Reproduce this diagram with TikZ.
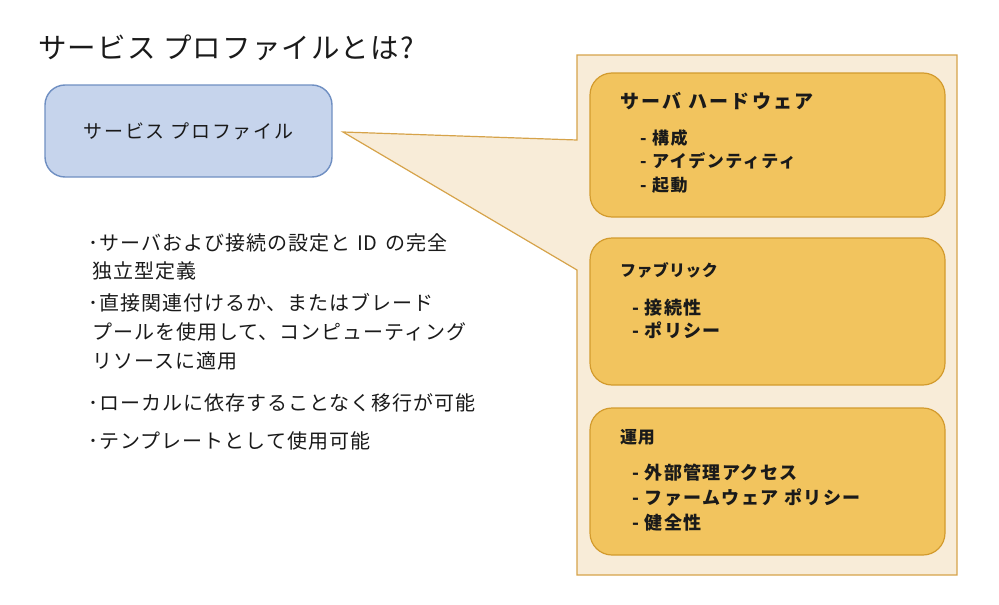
\documentclass[tikz,border=0pt]{standalone}
\usepackage{fontspec}
\newfontfamily\cjk{Noto Sans CJK JP}
\definecolor{bluefill}{HTML}{C6D4EC}
\definecolor{blueline}{HTML}{6F8FC2}
\definecolor{beigefill}{HTML}{F8ECD8}
\definecolor{beigeline}{HTML}{D6A34A}
\definecolor{goldfill}{HTML}{F2C45E}
\definecolor{goldline}{HTML}{D39B2E}
\definecolor{txt}{HTML}{1A1A1A}
\tikzset{
  pbox/.style={draw=blueline, line width=1.4pt, fill=bluefill, rounded corners=20pt, minimum width=287pt, minimum height=92pt, inner sep=0pt},
  gbox/.style={draw=goldline, line width=1.2pt, fill=goldfill, rounded corners=22pt, minimum width=355pt, minimum height=145pt, inner sep=0pt},
  callout/.style={draw=beigeline, line width=1.2pt, fill=beigefill},
  ttl/.style={font=\cjk\fontsize{28.5}{32}\selectfont\addfontfeatures{LetterSpace=4}, text=txt, anchor=base west, inner sep=0pt},
  bul/.style={font=\cjk\fontsize{20}{24}\selectfont\addfontfeatures{LetterSpace=5}, text=txt, anchor=base west, inner sep=0pt},
  hd/.style 2 args={font=\cjk\bfseries\fontsize{#1}{#1}\selectfont\addfontfeatures{LetterSpace=#2}, text=txt, anchor=base west, inner sep=0pt},
}
\begin{document}
\begin{tikzpicture}[x=1pt,y=-1pt]
\useasboundingbox (0,0) rectangle (999,605);
% callout
\coordinate (ctl) at (577,55);
\coordinate (ctr) at (957,55);
\coordinate (cbr) at (957,575);
\coordinate (cbl) at (577,575);
\coordinate (cpl) at (577,270);
\coordinate (tip) at (343,132);
\coordinate (cpu) at (577,140);
\draw[callout, line join=miter] (ctl) -- (ctr) -- (cbr) -- (cbl) -- (cpl) -- (tip) -- (cpu) -- cycle;
% title
\node[ttl] (title) at (38,58) {サービス プロファイルとは?};
% profile box
\node[pbox] (prof) at (188.5,131) {};
\node[font=\cjk\fontsize{19}{22}\selectfont\addfontfeatures{LetterSpace=9}, text=txt] (proflbl) at (prof.center) {サービス プロファイル};
% golden boxes
\node[gbox, minimum height=144pt] (g1) at (767.5,145) {};
\node[gbox, minimum height=147pt] (g2) at (767.5,311.5) {};
\node[gbox, minimum height=147pt] (g3) at (767.5,481.5) {};
% box 1 text
\node[hd={19}{12}] (g1t) at (620,108) {サーバ ハードウェア};
\node[hd={17}{9}] (g1a) at (640,144.5) {- 構成};
\node[hd={17}{9}] (g1b) at (640,167.5) {- アイデンティティ};
\node[hd={17}{9}] (g1c) at (640,191.5) {- 起動};
% box 2 text
\node[hd={16}{2}] (g2t) at (620,276) {ファブリック};
\node[hd={18}{8}] (g2a) at (632,314) {- 接続性};
\node[hd={18}{8}] (g2b) at (632,337) {- ポリシー};
% box 3 text
\node[hd={17}{4}] (g3t) at (620,443.5) {運用};
\node[hd={18}{8}] (g3a) at (632,479) {- 外部管理アクセス};
\node[hd={18}{8}] (g3b) at (632,504) {- ファームウェア ポリシー};
\node[hd={18}{8}] (g3c) at (632,529) {- 健全性};
% bullets
\node[bul] (b1a) at (88,250) {･サーバおよび接続の設定と\hspace{7pt}ID\hspace{8pt}の完全};
\node[bul] (b1b) at (92,278) {独立型定義};
\node[bul] (b2a) at (88,310) {･直接関連付けるか、またはブレード};
\node[bul] (b2b) at (92,339) {プールを使用して、コンピューティング};
\node[bul] (b2c) at (92,368) {リソースに適用};
\node[bul] (b3) at (88,410) {･ローカルに依存することなく移行が可能};
\node[bul] (b4) at (88,448) {･テンプレートとして使用可能};
\end{tikzpicture}
\end{document}
